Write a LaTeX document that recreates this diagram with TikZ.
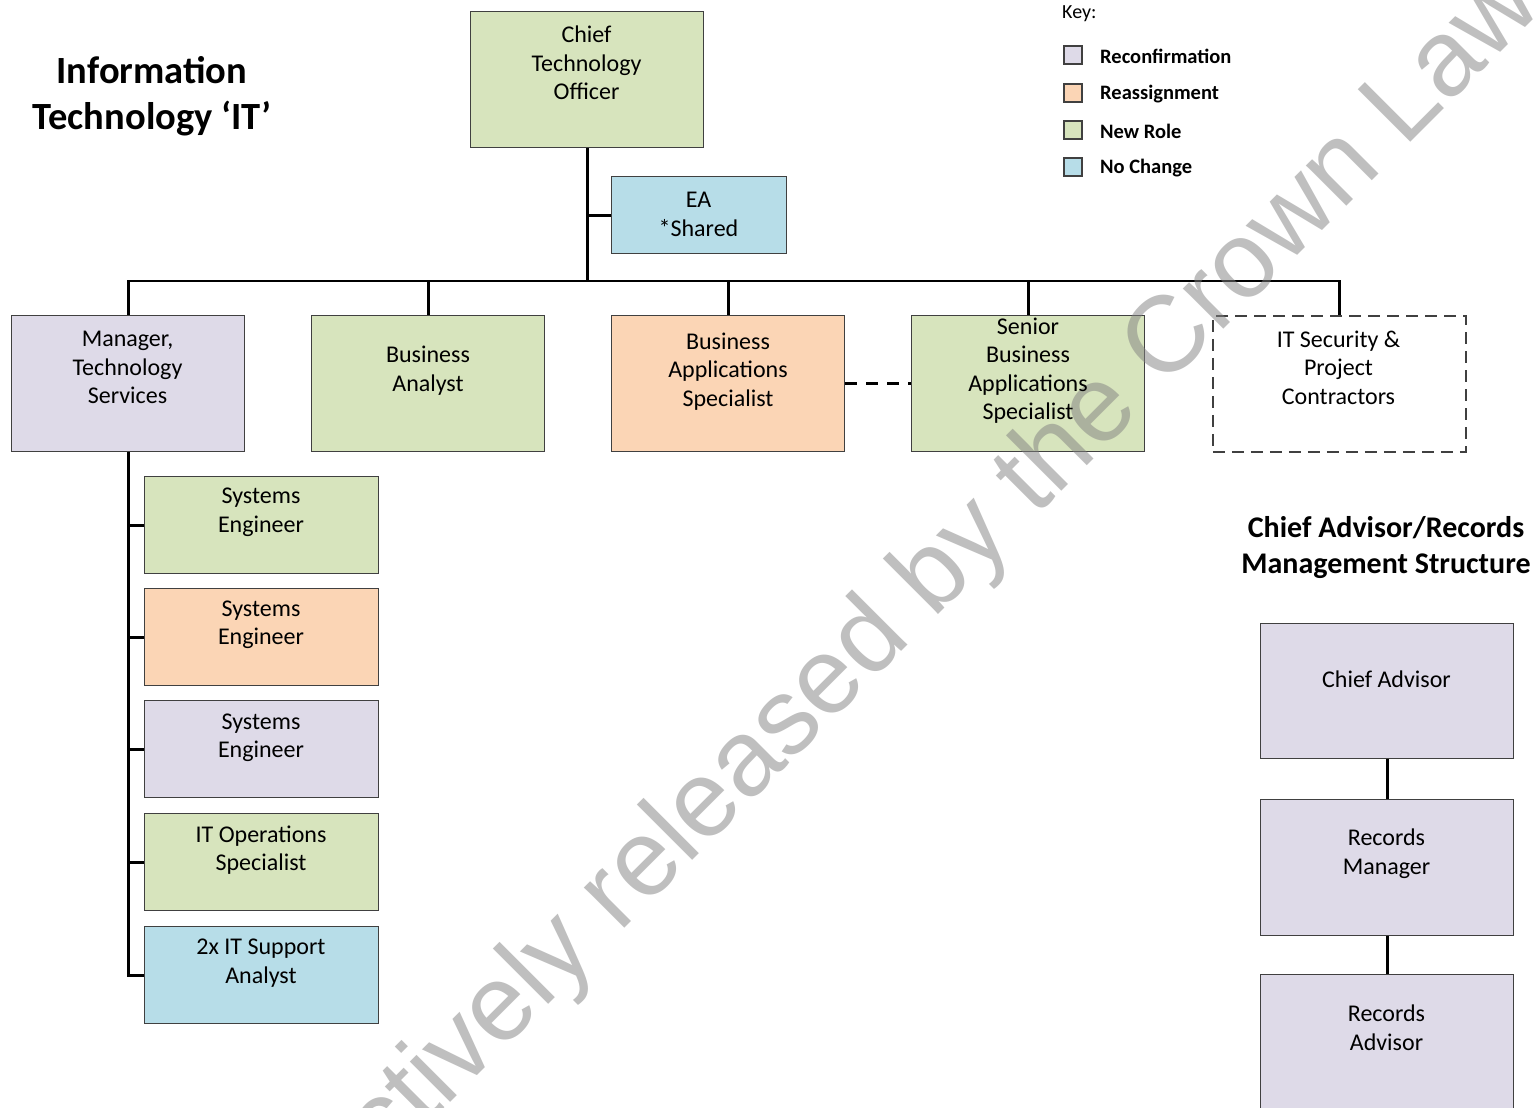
\documentclass[tikz,border=0pt]{standalone}
\usepackage{fontspec}
\setmainfont{Carlito}
\newfontfamily\wmfont{Liberation Sans}
\definecolor{lav}{RGB}{222,218,232}
\definecolor{peach}{RGB}{251,213,181}
\definecolor{olive}{RGB}{215,228,189}
\definecolor{aqua}{RGB}{183,221,232}
\definecolor{edge}{RGB}{64,64,64}
\begin{document}
\begin{tikzpicture}[x=1pt,y=-1pt,
  role/.style={draw=edge, line width=1.3pt, anchor=north west, inner sep=0pt, minimum width=#1},
  role/.default=233pt,
  txt/.style={align=center, inner sep=0pt, font=\fontsize{24}{28.5}\selectfont,
    execute at begin node=\strut, execute at end node=\strut},
  conn/.style={line width=2.7pt, black},
  keybox/.style={draw=edge, line width=1.3pt, minimum size=18pt, inner sep=0pt},
  keytxt/.style={anchor=west, inner sep=0pt, font=\fontsize{20.5}{24}\selectfont\bfseries},
  heading/.style={align=center, inner sep=0pt, font=\bfseries,
    execute at begin node=\strut, execute at end node=\strut},
  wm/.style={font=\fontsize{108}{120}\selectfont\wmfont, text=black!50, opacity=0.5, inner sep=0pt}
]
\path[use as bounding box, clip] (0,0) rectangle (1534,1108);
\fill[white] (0,0) rectangle (1534,1108);

% ---- boxes ----
\node[role, fill=olive, minimum height=136pt] (cto) at (470,11) {};
\node[role=175pt, fill=aqua, minimum height=77pt] (ea) at (611,176) {};
\node[role, fill=lav, minimum height=136pt] (mgr) at (11,315) {};
\node[role, fill=olive, minimum height=136pt] (ba) at (311,315) {};
\node[role, fill=peach, minimum height=136pt] (bas) at (611,315) {};
\node[role, fill=olive, minimum height=136pt] (sen) at (911,315) {};
\node[role=253pt, draw=edge, dash pattern=on 12pt off 7pt, line width=1.5pt, fill=white, minimum height=136pt] (itsec) at (1212,315) {};

\node[role=234pt, fill=olive, minimum height=97pt] (se1) at (144,476) {};
\node[role=234pt, fill=peach, minimum height=97pt] (se2) at (144,588) {};
\node[role=234pt, fill=lav, minimum height=97pt] (se3) at (144,700) {};
\node[role=234pt, fill=olive, minimum height=97pt] (ops) at (144,813) {};
\node[role=234pt, fill=aqua, minimum height=97pt] (sup) at (144,926) {};

\node[role=253pt, fill=lav, minimum height=135pt] (ca) at (1260,623) {};
\node[role=253pt, fill=lav, minimum height=136pt] (rm) at (1260,799) {};
\node[role=253pt, fill=lav, minimum height=170pt] (ra) at (1260,974) {};

% ---- connectors ----
\coordinate (bus) at (0,281);
\draw[conn] (cto.south) -- (cto.south |- bus);
\draw[conn] (ea.west) -- (ea.west -| cto.south);
\draw[conn] (mgr.north) -- (mgr.north |- bus) -| (itsec.north);
\draw[conn] (ba.north) -- (ba.north |- bus);
\draw[conn] (bas.north) -- (bas.north |- bus);
\draw[conn] (sen.north) -- (sen.north |- bus);
\draw[conn, dash pattern=on 12pt off 9pt] (bas.east) -- (sen.west);
\draw[conn] (mgr.south) |- (sup.west);
\foreach \n in {se1,se2,se3,ops}
  \draw[conn] (\n.west) -- (\n.west -| mgr.south);
\draw[conn] (ca.south) -- (rm.north);
\draw[conn] (rm.south) -- (ra.north);

% ---- key ----
\node[anchor=west, inner sep=0pt, font=\fontsize{20}{24}\selectfont] (keyhead) at (1062,13.5) {Key:};
\node[keybox, fill=lav] (k1) at (1073,55) {};
\node[keybox, fill=peach] (k2) at (1073,93) {};
\node[keybox, fill=olive] (k3) at (1073,130) {};
\node[keybox, fill=aqua] (k4) at (1073,167) {};
\node[keytxt] (k1t) at (1100,56) {Reconfirmation};
\node[keytxt] (k2t) at (1100,94) {Reassignment};
\node[keytxt] (k3t) at (1100,131) {New Role};
\node[keytxt] (k4t) at (1100,168) {No Change};

% ---- watermark ----
\node[wm, rotate=45, anchor=base west] (wmark) at (225,1328) {Proactively released by the Crown Law};

% ---- headings ----
\node[heading, font=\fontsize{38.5}{46}\selectfont\bfseries] (title) at (152,99.5) {Information\\Technology ‘IT’};
\node[heading, font=\fontsize{30}{36}\selectfont\bfseries] (title2) at (1386,550) {Chief Advisor/Records\\Management Structure};

% ---- role texts ----
\node[txt] (cto-t) at (586.5,67) {Chief\\Technology\\Officer};
\node[txt] (ea-t) at (698.5,218.5) {EA\\*Shared};
\node[txt] (mgr-t) at (127.5,372) {Manager,\\Technology\\Services};
\node[txt] (ba-t) at (428,373) {Business\\Analyst};
\node[txt] (bas-t) at (728,374) {Business\\Applications\\Specialist};
\node[txt] (sen-t) at (1028,373) {Senior\\Business\\Applications\\Specialist};
\node[txt] (itsec-t) at (1338.5,372) {IT Security \&\\Project\\Contractors};
\node[txt] (se1-t) at (261,514.5) {Systems\\Engineer};
\node[txt] (se2-t) at (261,627) {Systems\\Engineer};
\node[txt] (se3-t) at (261,740) {Systems\\Engineer};
\node[txt] (ops-t) at (261,852.5) {IT Operations\\Specialist};
\node[txt] (sup-t) at (261,965.5) {2x IT Support\\Analyst};
\node[txt] (ca-t) at (1386.5,681.5) {Chief Advisor};
\node[txt] (rm-t) at (1386.5,856) {Records\\Manager};
\node[txt] (ra-t) at (1386.5,1032) {Records\\Advisor};
\end{tikzpicture}
\end{document}
